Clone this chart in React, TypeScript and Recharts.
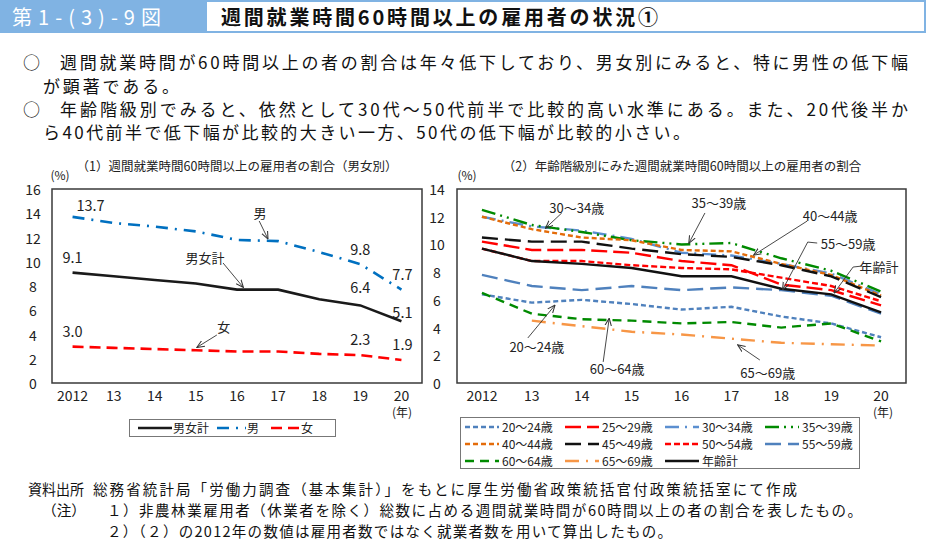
import React from 'react';
import {
  LineChart,
  Line,
  XAxis,
  YAxis,
  ReferenceArea,
  ReferenceLine,
  ReferenceDot,
  LabelList,
  Legend,
} from 'recharts';

const FONT = '"Noto Sans CJK JP", "Noto Sans", sans-serif';

// ---- data ----
const years = [2012, 2013, 2014, 2015, 2016, 2017, 2018, 2019, 2020];

// (1) 男女別
const totalRate = [9.1, 8.8, 8.5, 8.2, 7.7, 7.7, 6.9, 6.4, 5.1];
const maleRate = [13.7, 13.2, 12.9, 12.5, 11.8, 11.7, 10.8, 9.8, 7.7];
const femaleRate = [3.0, 2.9, 2.8, 2.7, 2.6, 2.6, 2.4, 2.3, 1.9];

// (2) 年齢階級別
const age20to24 = [6.4, 5.8, 6.0, 5.7, 5.3, 5.5, 4.8, 4.3, 3.3];
const age25to29 = [10.2, 9.6, 9.6, 9.4, 8.8, 8.5, 7.1, 6.7, 5.6];
const age30to34 = [12.0, 11.3, 11.0, 10.4, 9.4, 9.2, 8.6, 7.9, 6.4];
const age35to39 = [12.5, 11.4, 10.9, 10.3, 10.0, 10.1, 9.0, 8.1, 6.6];
const age40to44 = [12.0, 11.1, 10.5, 10.3, 9.6, 9.5, 8.6, 7.8, 6.3];
const age45to49 = [10.5, 10.2, 10.2, 9.7, 9.3, 9.1, 8.5, 7.7, 6.2];
const age50to54 = [9.7, 8.8, 8.8, 8.5, 8.3, 8.2, 7.6, 7.0, 5.9];
const age55to59 = [7.8, 7.0, 6.7, 7.0, 6.7, 6.9, 6.7, 6.3, 5.0];
const age60to64 = [6.5, 5.0, 4.6, 4.5, 4.3, 4.4, 4.0, 4.3, 3.0];
const age65to69 = [null, 4.5, 4.1, 3.7, 3.5, 3.2, 2.9, 2.8, 2.7];
const ageTotal = [9.7, 8.8, 8.6, 8.3, 7.7, 7.7, 6.8, 6.4, 5.1];

const leftTicks = [0, 2, 4, 6, 8, 10, 12, 14, 16];
const rightTicks = [0, 2, 4, 6, 8, 10, 12, 14];

const sexSeries = [
  { key: 'total', name: '男女計', values: totalRate, color: '#1a1a1a', dash: undefined },
  { key: 'male', name: '男', values: maleRate, color: '#0070c0', dash: '12 7 2 7' },
  { key: 'female', name: '女', values: femaleRate, color: '#ff0000', dash: '11 6' },
];

const ageSeries = [
  { key: 'a20', name: '20～24歳', values: age20to24, color: '#4f81bd', dash: '5 3' },
  { key: 'a25', name: '25～29歳', values: age25to29, color: '#ff0000', dash: '16 6' },
  { key: 'a30', name: '30～34歳', values: age30to34, color: '#5b8fd0', dash: '14 6 2 6' },
  { key: 'a35', name: '35～39歳', values: age35to39, color: '#008a00', dash: '14 5 2 5 2 5' },
  { key: 'a40', name: '40～44歳', values: age40to44, color: '#e46c0a', dash: '5 3' },
  { key: 'a45', name: '45～49歳', values: age45to49, color: '#111111', dash: '16 7' },
  { key: 'a50', name: '50～54歳', values: age50to54, color: '#ff0000', dash: '6 3' },
  { key: 'a55', name: '55～59歳', values: age55to59, color: '#4f81bd', dash: '16 7' },
  { key: 'a60', name: '60～64歳', values: age60to64, color: '#008a00', dash: '9 6' },
  { key: 'a65', name: '65～69歳', values: age65to69, color: '#f79646', dash: '14 7 2 7' },
  { key: 'all', name: '年齢計', values: ageTotal, color: '#111111', dash: undefined },
];

const sexData = years.map((year, i) => {
  const row: any = { year };
  sexSeries.forEach((s) => (row[s.key] = s.values[i]));
  return row;
});

const ageData = years.map((year, i) => {
  const row: any = { year };
  ageSeries.forEach((s) => (row[s.key] = s.values[i]));
  return row;
});

// annotation text + leader lines, in data coordinates
const sexNotes = [
  { text: '男', at: [2016.56, 14.1], path: [[2016.54, 13.36], [2016.75, 11.9]] },
  { text: '男女計', at: [2015.22, 10.39], path: [[2015.66, 9.9], [2016.15, 7.9]] },
  { text: '女', at: [2015.68, 4.62], path: [[2015.51, 3.96], [2015.03, 2.95]] },
];

const ageNotes = [
  { text: '30～34歳', at: [2013.9, 12.7], path: [[2013.6, 12.27], [2013.28, 11.19]] },
  { text: '35～39歳', at: [2016.75, 12.99], path: [[2016.47, 12.27], [2016.15, 10.1]] },
  { text: '40～44歳', at: [2018.98, 12.12], path: [[2018.52, 11.69], [2017.45, 9.24]] },
  { text: '55～59歳', at: [2019.34, 10.1], path: [[2018.72, 10.1], [2018.53, 10.17], [2018.03, 6.75]] },
  { text: '年齢計', at: [2019.96, 8.44], path: [[2019.62, 8.44], [2019.44, 8.37], [2019.06, 6.5]] },
  { text: '20～24歳', at: [2013.1, 2.6], path: [[2012.92, 3.25], [2013.46, 5.6]] },
  { text: '60～64歳', at: [2014.71, 1.08], path: [[2014.43, 1.52], [2014.55, 4.65]] },
  { text: '65～69歳', at: [2017.73, 0.79], path: [[2017.57, 1.66], [2017.13, 2.74]] },
];

// value labels (index -> [dx, dy])
const sexLabelOffsets: any = {
  total: { 0: [0, -10], 7: [0, -12], 8: [1, -3] },
  male: { 0: [18, -6], 7: [0, -9], 8: [1, -10] },
  female: { 0: [0, -10], 7: [0, -10], 8: [1, -10] },
};

const yearLabel = (y: number) => (y === 2012 ? '2012' : String(y % 100));

const renderNotes = (notes: any[], prefix: string) =>
  notes.flatMap((n, i) => {
    const items: any[] = [
      <ReferenceDot
        key={`${prefix}-t${i}`}
        x={n.at[0]}
        y={n.at[1]}
        r={0}
        shape={(p: any) => (
          <text
            x={p.cx}
            y={p.cy}
            textAnchor="middle"
            dominantBaseline="central"
            fontSize={13}
            fill="#222"
            fontFamily={FONT}
          >
            {n.text}
          </text>
        )}
      />,
    ];
    for (let k = 0; k < n.path.length - 1; k++) {
      const last = k === n.path.length - 2;
      items.push(
        <ReferenceLine
          key={`${prefix}-l${i}-${k}`}
          segment={[
            { x: n.path[k][0], y: n.path[k][1] },
            { x: n.path[k + 1][0], y: n.path[k + 1][1] },
          ]}
          shape={(p: any) => (
            <line
              x1={p.x1}
              y1={p.y1}
              x2={p.x2}
              y2={p.y2}
              stroke="#333"
              strokeWidth={0.9}
              markerEnd={last ? 'url(#openArrow)' : undefined}
            />
          )}
        />
      );
    }
    return items;
  });

const sample = (color: string, dash: string | undefined, w: number) => (
  <svg width={w} height={10} style={{ display: 'block' }}>
    <line x1={0} y1={5} x2={w} y2={5} stroke={color} strokeWidth={2.6} strokeDasharray={dash} />
  </svg>
);

const SexLegend = () => (
  <div
    style={{
      width: 197,
      height: 16,
      border: '1px solid #777',
      background: '#fff',
      display: 'flex',
      alignItems: 'center',
      paddingLeft: 8,
      boxSizing: 'content-box',
      fontFamily: FONT,
      fontSize: 12,
      color: '#222',
      lineHeight: '16px',
    }}
  >
    {sexSeries.map((s, i) => (
      <div key={s.key} style={{ display: 'flex', alignItems: 'center', marginRight: i === 0 ? 8 : 12 }}>
        {sample(s.color, s.dash, i === 0 ? 34 : 29)}
        <span style={{ marginLeft: 1 }}>{s.name}</span>
      </div>
    ))}
  </div>
);

const AgeLegend = () => (
  <div
    style={{
      width: 398,
      height: 50,
      border: '1px solid #777',
      background: '#fff',
      position: 'relative',
      fontFamily: FONT,
      fontSize: 12,
      color: '#222',
    }}
  >
    {ageSeries.map((s, i) => (
      <div
        key={s.key}
        style={{
          position: 'absolute',
          left: 4 + (i % 4) * 100,
          top: 1 + Math.floor(i / 4) * 17,
          height: 16,
          display: 'flex',
          alignItems: 'center',
          lineHeight: '16px',
        }}
      >
        {sample(s.color, s.dash, 34)}
        <span style={{ marginLeft: 3 }}>{s.name}</span>
      </div>
    ))}
  </div>
);

const leftYTick = (p: any) => (
  <text x={33} y={p.y} textAnchor="middle" dominantBaseline="central" fontSize={14} fill="#222" fontFamily={FONT}>
    {p.payload.value}
  </text>
);

const rightYTick = (p: any) => (
  <text x={17} y={p.y} textAnchor="middle" dominantBaseline="central" fontSize={14} fill="#222" fontFamily={FONT}>
    {p.payload.value}
  </text>
);

const SexChart = () => (
  <LineChart width={440} height={290} data={sexData} margin={{ top: 39, right: 18, bottom: 27, left: 0 }}>
    <XAxis
      type="number"
      dataKey="year"
      domain={[2011.5, 2020.5]}
      ticks={years}
      interval={0}
      tickFormatter={yearLabel}
      axisLine={false}
      tickLine={false}
      height={30}
      tick={{ fontSize: 14, fill: '#222', fontFamily: FONT }}
    />
    <YAxis
      type="number"
      domain={[0, 16]}
      ticks={leftTicks}
      interval={0}
      axisLine={false}
      tickLine={false}
      width={52}
      tick={leftYTick}
    />
    <ReferenceArea x1={2011.5} x2={2020.5} y1={0} y2={16} fill="none" stroke="#3a3a3a" strokeWidth={1.5} />
    {sexSeries.map((s) => (
      <Line
        key={s.key}
        type="linear"
        dataKey={s.key}
        name={s.name}
        stroke={s.color}
        strokeWidth={2.6}
        strokeDasharray={s.dash}
        dot={false}
        activeDot={false}
        isAnimationActive={false}
      >
        <LabelList
          dataKey={s.key}
          content={(p: any) => {
            const off = sexLabelOffsets[s.key][p.index];
            if (!off) return null;
            return (
              <text
                x={p.x + off[0]}
                y={p.y + off[1]}
                textAnchor="middle"
                fontSize={14.5}
                fill="#222"
                fontFamily={FONT}
              >
                {Number(p.value).toFixed(1)}
              </text>
            );
          }}
        />
      </Line>
    ))}
    {renderNotes(sexNotes, 'sx')}
    <Legend
      layout="horizontal"
      verticalAlign="middle"
      align="center"
      wrapperStyle={{ position: 'absolute', left: 129, top: 269, width: 'auto' }}
      content={() => <SexLegend />}
    />
  </LineChart>
);

const AgeChart = () => (
  <LineChart width={500} height={330} data={ageData} margin={{ top: 39, right: 14, bottom: 67, left: 0 }}>
    <XAxis
      type="number"
      dataKey="year"
      domain={[2011.5, 2020.5]}
      ticks={years}
      interval={0}
      tickFormatter={yearLabel}
      axisLine={false}
      tickLine={false}
      height={30}
      tick={{ fontSize: 14, fill: '#222', fontFamily: FONT }}
    />
    <YAxis
      type="number"
      domain={[0, 14]}
      ticks={rightTicks}
      interval={0}
      axisLine={false}
      tickLine={false}
      width={37}
      tick={rightYTick}
    />
    <ReferenceArea x1={2011.5} x2={2020.5} y1={0} y2={14} fill="none" stroke="#3a3a3a" strokeWidth={1.5} />
    {ageSeries.map((s) => (
      <Line
        key={s.key}
        type="linear"
        dataKey={s.key}
        name={s.name}
        stroke={s.color}
        strokeWidth={2.4}
        strokeDasharray={s.dash}
        dot={false}
        activeDot={false}
        connectNulls={false}
        isAnimationActive={false}
      />
    ))}
    {renderNotes(ageNotes, 'ag')}
    <Legend
      layout="horizontal"
      verticalAlign="middle"
      align="center"
      wrapperStyle={{ position: 'absolute', left: 40, top: 267, width: 'auto' }}
      content={() => <AgeLegend />}
    />
  </LineChart>
);

const HEAD_BLUE = '#80b3e3';

export default function App() {
  return (
    <div
      style={{
        position: 'absolute',
        left: 0,
        top: 0,
        width: 932,
        height: 541,
        background: '#fff',
        fontFamily: FONT,
        overflow: 'hidden',
      }}
    >
      <svg width={0} height={0} style={{ position: 'absolute' }}>
        <defs>
          <marker
            id="openArrow"
            viewBox="0 0 10 10"
            refX="9"
            refY="5"
            markerWidth="8"
            markerHeight="8"
            markerUnits="userSpaceOnUse"
            orient="auto"
          >
            <path d="M0,1 L9.5,5 L0,9" fill="none" stroke="#333" strokeWidth="1.3" />
          </marker>
        </defs>
      </svg>

      <svg width={932} height={541} style={{ position: 'absolute', left: 0, top: 0 }} fontFamily={FONT}>
        <rect x={0} y={0} width={205} height={33} fill={HEAD_BLUE} />
        <rect x={206} y={1} width={719} height={31} fill="#fff" stroke={HEAD_BLUE} strokeWidth={2} />
        <text x={12} y={25} fontSize={20} fill="#fff" textLength={149} lengthAdjust="spacing">
          第1-(3)-9図
        </text>
        <text x={221} y={25} fontSize={20} fontWeight="bold" fill="#111" textLength={437} lengthAdjust="spacing">
          週間就業時間60時間以上の雇用者の状況①
        </text>

        <g fontSize={17} fill="#111">
          <text x={23} y={69}>○</text>
          <text x={60} y={69} textLength={848} lengthAdjust="spacing">
            週間就業時間が60時間以上の者の割合は年々低下しており、男女別にみると、特に男性の低下幅
          </text>
          <text x={43} y={93} textLength={136} lengthAdjust="spacing">
            が顕著である。
          </text>
          <text x={23} y={116}>○</text>
          <text x={60} y={116} textLength={848} lengthAdjust="spacing">
            年齢階級別でみると、依然として30代～50代前半で比較的高い水準にある。また、20代後半か
          </text>
          <text x={43} y={139} textLength={647} lengthAdjust="spacing">
            ら40代前半で低下幅が比較的大きい一方、50代の低下幅が比較的小さい。
          </text>
        </g>

        <g fontSize={12.5} fill="#222">
          <text x={237} y={171} textAnchor="middle">
            （1）週間就業時間60時間以上の雇用者の割合（男女別）
          </text>
          <text x={682} y={171} textAnchor="middle">
            （2）年齢階級別にみた週間就業時間60時間以上の雇用者の割合
          </text>
          <text x={60} y={180} textAnchor="middle" fontSize={12}>(%)</text>
          <text x={467} y={180} textAnchor="middle" fontSize={12}>(%)</text>
          <text x={402} y={417} textAnchor="middle" fontSize={12}>(年)</text>
          <text x={883} y={417} textAnchor="middle" fontSize={12}>(年)</text>
        </g>

        <g fontSize={14.5} fill="#111">
          <text x={28} y={495} textLength={56} lengthAdjust="spacingAndGlyphs">資料出所</text>
          <text x={93} y={495} textLength={704} lengthAdjust="spacing">
            総務省統計局「労働力調査（基本集計）」をもとに厚生労働省政策統括官付政策統括室にて作成
          </text>
          <text x={42} y={516} textLength={44} lengthAdjust="spacingAndGlyphs">（注）</text>
          <text x={107} y={516} textLength={755} lengthAdjust="spacing">
            １）非農林業雇用者（休業者を除く）総数に占める週間就業時間が60時間以上の者の割合を表したもの。
          </text>
          <text x={107} y={537} textLength={565} lengthAdjust="spacing">
            ２）（２）の2012年の数値は雇用者数ではなく就業者数を用いて算出したもの。
          </text>
        </g>
      </svg>

      <div style={{ position: 'absolute', left: 0, top: 150 }}>
        <SexChart />
      </div>
      <div style={{ position: 'absolute', left: 420, top: 150 }}>
        <AgeChart />
      </div>
    </div>
  );
}
